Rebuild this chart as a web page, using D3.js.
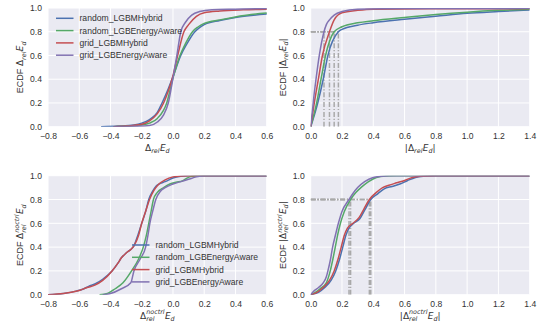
<!DOCTYPE html>
<html>
<head>
<meta charset="utf-8">
<script src="https://cdn.jsdelivr.net/npm/d3@7"></script>
<style>
  html, body { margin: 0; padding: 0; background: #ffffff; }
  svg { display: block; }
</style>
</head>
<body>
<svg id="chart" width="546" height="327"></svg>
<script>
// Series shown in every panel (legend order = draw order)
const seriesNames = ["random_LGBMHybrid", "random_LGBEnergyAware", "grid_LGBMHybrid", "grid_LGBEnergyAware"];
const seriesColors = ["#4C72B0", "#55A868", "#C44E52", "#8172B2"];

// Tick values
const signedTicks = [-0.8, -0.6, -0.4, -0.2, 0.0, 0.2, 0.4, 0.6];
const absTicks = [0.0, 0.2, 0.4, 0.6, 0.8, 1.0, 1.2, 1.4];
const ecdfTicks = [0.0, 0.2, 0.4, 0.6, 0.8, 1.0];

// ECDF of the relative error Δ_rel E_d, as [x, F(x)] per series
const signedEcdf = [
  [[-0.46,0],[-0.35,0.005],[-0.25,0.015],[-0.2,0.03],[-0.15,0.06],[-0.1,0.12],[-0.07,0.2],[-0.03,0.32],[0,0.42],[0.05,0.6],[0.09,0.7],[0.14,0.8],[0.17,0.835],[0.2,0.86],[0.3,0.895],[0.4,0.92],[0.5,0.937],[0.6,0.95],[0.7,0.96]],
  [[-0.38,0],[-0.3,0.005],[-0.2,0.015],[-0.15,0.03],[-0.1,0.07],[-0.04,0.2],[0,0.41],[0.045,0.6],[0.08,0.7],[0.125,0.8],[0.16,0.84],[0.2,0.87],[0.3,0.9],[0.4,0.925],[0.5,0.945],[0.6,0.957],[0.7,0.965]],
  [[-0.38,0],[-0.3,0.005],[-0.2,0.02],[-0.15,0.05],[-0.1,0.11],[-0.06,0.2],[-0.03,0.3],[0,0.43],[0.03,0.6],[0.07,0.8],[0.1,0.86],[0.15,0.93],[0.2,0.96],[0.3,0.975],[0.45,0.985],[0.6,0.99],[0.7,0.992]],
  [[-0.38,0],[-0.25,0.003],[-0.15,0.01],[-0.1,0.04],[-0.06,0.1],[-0.03,0.2],[0,0.41],[0.025,0.6],[0.05,0.8],[0.08,0.88],[0.12,0.94],[0.17,0.97],[0.25,0.985],[0.4,0.99],[0.6,0.995],[0.7,0.996]]
];

// ECDF of |Δ_rel E_d|
const absEcdf = [
  [[0,0],[0.045,0.2],[0.08,0.4],[0.11,0.6],[0.177,0.8],[0.2,0.82],[0.3,0.855],[0.4,0.876],[0.6,0.905],[0.8,0.93],[1.0,0.955],[1.2,0.97],[1.4,0.983]],
  [[0,0],[0.038,0.2],[0.066,0.4],[0.095,0.6],[0.15,0.8],[0.2,0.842],[0.3,0.875],[0.4,0.893],[0.6,0.92],[0.8,0.945],[1.0,0.965],[1.2,0.98],[1.4,0.99]],
  [[0,0],[0.023,0.2],[0.049,0.4],[0.075,0.6],[0.12,0.8],[0.15,0.9],[0.2,0.96],[0.3,0.98],[0.4,0.99],[0.8,0.993],[1.4,0.995]],
  [[0,0],[0.01,0.12],[0.02,0.25],[0.034,0.4],[0.055,0.6],[0.085,0.8],[0.1,0.86],[0.12,0.9],[0.15,0.94],[0.2,0.97],[0.3,0.99],[0.6,0.995],[1.4,0.997]]
];

// ECDF of the no-control relative error Δ^noctrl_rel E_d
const noctrlEcdf = [
  [[-0.8,0],[-0.7,0.01],[-0.62,0.03],[-0.57,0.05],[-0.54,0.07],[-0.5,0.09],[-0.45,0.13],[-0.39,0.2],[-0.35,0.27],[-0.33,0.31],[-0.3,0.35],[-0.27,0.38],[-0.25,0.41],[-0.23,0.48],[-0.2,0.6],[-0.175,0.7],[-0.155,0.8],[-0.13,0.87],[-0.11,0.91],[-0.09,0.93],[-0.05,0.95],[0,0.98],[0.05,0.995],[0.1,1.0],[0.6,1.0]],
  [[-0.47,0],[-0.42,0.01],[-0.37,0.05],[-0.32,0.1],[-0.265,0.2],[-0.22,0.3],[-0.19,0.4],[-0.17,0.5],[-0.155,0.6],[-0.14,0.7],[-0.125,0.8],[-0.1,0.86],[-0.06,0.9],[-0.02,0.93],[0.02,0.945],[0.06,0.955],[0.09,0.98],[0.12,0.995],[0.16,1.0],[0.6,1.0]],
  [[-0.8,0],[-0.7,0.01],[-0.65,0.02],[-0.6,0.035],[-0.55,0.06],[-0.5,0.08],[-0.45,0.12],[-0.39,0.2],[-0.35,0.27],[-0.33,0.31],[-0.3,0.35],[-0.27,0.38],[-0.25,0.41],[-0.22,0.5],[-0.2,0.6],[-0.175,0.7],[-0.15,0.8],[-0.12,0.88],[-0.09,0.93],[-0.05,0.965],[0,0.99],[0.05,0.998],[0.1,1.0],[0.6,1.0]],
  [[-0.45,0],[-0.4,0.01],[-0.33,0.05],[-0.27,0.1],[-0.25,0.2],[-0.21,0.3],[-0.175,0.4],[-0.16,0.5],[-0.148,0.6],[-0.13,0.7],[-0.11,0.8],[-0.08,0.87],[-0.05,0.9],[0,0.93],[0.05,0.95],[0.1,0.97],[0.15,0.99],[0.2,1.0],[0.6,1.0]]
];

// ECDF of |Δ^noctrl_rel E_d|
const absNoctrlEcdf = [
  [[0,0],[0.05,0.02],[0.09,0.06],[0.13,0.12],[0.16,0.2],[0.185,0.3],[0.205,0.4],[0.225,0.5],[0.245,0.56],[0.275,0.6],[0.315,0.64],[0.345,0.71],[0.384,0.8],[0.43,0.85],[0.47,0.89],[0.52,0.91],[0.57,0.93],[0.62,0.96],[0.67,0.985],[0.72,0.995],[0.8,1.0],[1.4,1.0]],
  [[0,0],[0.03,0.02],[0.06,0.05],[0.1,0.1],[0.125,0.2],[0.142,0.3],[0.157,0.4],[0.172,0.5],[0.19,0.6],[0.215,0.7],[0.255,0.8],[0.29,0.86],[0.33,0.91],[0.37,0.95],[0.42,0.985],[0.48,0.997],[0.55,1.0],[1.4,1.0]],
  [[0,0],[0.04,0.02],[0.08,0.06],[0.12,0.12],[0.15,0.2],[0.175,0.3],[0.195,0.4],[0.215,0.5],[0.235,0.56],[0.27,0.6],[0.31,0.65],[0.34,0.72],[0.375,0.8],[0.42,0.86],[0.46,0.9],[0.5,0.92],[0.55,0.94],[0.6,0.96],[0.65,0.985],[0.7,0.995],[0.8,1.0],[1.4,1.0]],
  [[0,0],[0.02,0.03],[0.05,0.06],[0.08,0.1],[0.1,0.15],[0.11,0.2],[0.127,0.3],[0.14,0.4],[0.158,0.5],[0.177,0.6],[0.2,0.7],[0.245,0.8],[0.27,0.85],[0.3,0.9],[0.345,0.95],[0.4,0.985],[0.45,0.995],[0.5,1.0],[1.4,1.0]]
];

// Level at which the quantile guides are drawn on the |error| panels
const guideLevel = 0.8;

const TEXT_FONT = "'Liberation Sans', Arial, sans-serif";
const MATH_FONT = "'DejaVu Sans', sans-serif";
const TEXT_COLOR = "#333333";
const BG = "#EAEAF2";

const svg = d3.select("#chart");

// Lay out a math-style label from pieces; stacked pieces share one x position.
function mathText(parent, pieces, cx, cy, angle) {
  const outer = parent.append("g").attr("transform", `translate(${cx},${cy}) rotate(${angle || 0})`);
  const inner = outer.append("g");
  let x = 0, held = null;
  for (const p of pieces) {
    const small = p.pos === "sub" || p.pos === "sup";
    const size = small ? 6.4 : 9;
    const dy = p.pos === "sub" ? 2.6 : p.pos === "sup" ? -4.2 : 0;
    const start = held ? held.x : x;
    const node = inner.append("text")
      .attr("x", start).attr("y", dy)
      .attr("font-size", size)
      .attr("font-family", p.font || MATH_FONT)
      .attr("font-style", p.it ? "italic" : "normal")
      .attr("fill", TEXT_COLOR)
      .text(p.t);
    const w = node.node().getComputedTextLength();
    if (p.stack) {
      held = { x: start, w };
    } else if (held) {
      x = start + Math.max(w, held.w);
      held = null;
    } else {
      x = start + w;
    }
    x += p.kern || 0;
  }
  inner.attr("transform", `translate(${-x / 2},0)`);
}

const relSigned = [
  { t: "Δ" }, { t: "rel", it: true, pos: "sub", kern: 0.3 }, { t: "E", it: true }, { t: "d", it: true, pos: "sub" }
];
const relNoctrl = [
  { t: "Δ" }, { t: "noctrl", it: true, pos: "sup", stack: true }, { t: "rel", it: true, pos: "sub", kern: 0.3 },
  { t: "E", it: true }, { t: "d", it: true, pos: "sub" }
];
const bar = { t: "|" };
const ecdfWord = { t: "ECDF", font: TEXT_FONT, kern: 2.6 };

const panels = [
  { data: signedEcdf, left: 48, right: 266.7, top: 8, bottom: 126.7, xDomain: [-0.8, 0.6], xTicks: signedTicks,
    xLabel: relSigned, yLabel: [ecdfWord, ...relSigned], guides: false,
    legend: { x: 56, y: 18.3 } },
  { data: absEcdf, left: 310.7, right: 529.7, top: 8, bottom: 126.7, xDomain: [0, 1.4], xTicks: absTicks,
    xLabel: [bar, ...relSigned, bar], yLabel: [ecdfWord, bar, ...relSigned, bar], guides: true },
  { data: noctrlEcdf, left: 48, right: 266.7, top: 175.7, bottom: 294.7, xDomain: [-0.8, 0.6], xTicks: signedTicks,
    xLabel: relNoctrl, yLabel: [ecdfWord, ...relNoctrl], guides: false,
    legend: { x: 132, y: 245 } },
  { data: absNoctrlEcdf, left: 310.7, right: 529.7, top: 175.7, bottom: 294.7, xDomain: [0, 1.4], xTicks: absTicks,
    xLabel: [bar, ...relNoctrl, bar], yLabel: [ecdfWord, bar, ...relNoctrl, bar], guides: true }
];

// x where a piecewise-linear ECDF first reaches the level
function quantileAt(points, level) {
  for (let i = 1; i < points.length; i++) {
    const [x0, y0] = points[i - 1], [x1, y1] = points[i];
    if (y1 >= level) return y1 === y0 ? x1 : x0 + (level - y0) * (x1 - x0) / (y1 - y0);
  }
  return points[points.length - 1][0];
}

panels.forEach((p, idx) => {
  const x = d3.scaleLinear().domain(p.xDomain).range([p.left, p.right]);
  const y = d3.scaleLinear().domain([0, 1]).range([p.bottom, p.top]);
  const g = svg.append("g");

  g.append("rect")
    .attr("x", p.left).attr("y", p.top)
    .attr("width", p.right - p.left).attr("height", p.bottom - p.top)
    .attr("fill", BG);

  // white grid
  const grid = g.append("g").attr("stroke", "#ffffff").attr("stroke-width", 1);
  grid.selectAll(".gx").data(p.xTicks).join("line")
    .attr("x1", d => x(d)).attr("x2", d => x(d)).attr("y1", p.top).attr("y2", p.bottom);
  grid.selectAll(".gy").data(ecdfTicks).join("line")
    .attr("y1", d => y(d)).attr("y2", d => y(d)).attr("x1", p.left).attr("x2", p.right);

  // tick labels via d3 axes, with the tick marks and domain removed
  const fmt = d3.format(".1f");
  const xAxis = g.append("g").attr("transform", `translate(0,${p.bottom})`)
    .call(d3.axisBottom(x).tickValues(p.xTicks).tickFormat(fmt).tickSize(0).tickPadding(6.5));
  const yAxis = g.append("g").attr("transform", `translate(${p.left},0)`)
    .call(d3.axisLeft(y).tickValues(ecdfTicks).tickFormat(fmt).tickSize(0).tickPadding(6));
  [xAxis, yAxis].forEach(a => {
    a.select(".domain").remove();
    a.selectAll("text").attr("font-family", TEXT_FONT).attr("font-size", 8.6).attr("fill", TEXT_COLOR);
  });

  const clipId = "clip" + idx;
  g.append("clipPath").attr("id", clipId).append("rect")
    .attr("x", p.left).attr("y", p.top)
    .attr("width", p.right - p.left).attr("height", p.bottom - p.top);
  const plot = g.append("g").attr("clip-path", `url(#${clipId})`);

  // quantile guides at the 80% level
  if (p.guides) {
    const qs = p.data.map(s => quantileAt(s, guideLevel));
    const guide = plot.append("g").attr("stroke", "#a9a9a9").attr("stroke-width", 1.5)
      .attr("stroke-dasharray", "5,1.8,1.2,1.8").attr("fill", "none");
    guide.selectAll("line.v").data(qs).join("line")
      .attr("x1", d => x(d)).attr("x2", d => x(d)).attr("y1", y(0)).attr("y2", y(guideLevel));
    guide.selectAll("line.h").data(qs).join("line")
      .attr("x1", x(0)).attr("x2", d => x(d)).attr("y1", y(guideLevel)).attr("y2", y(guideLevel));
  }

  const line = d3.line().x(d => x(d[0])).y(d => y(d[1])).curve(d3.curveMonotoneX);
  plot.selectAll("path.s").data(p.data).join("path")
    .attr("d", line)
    .attr("fill", "none")
    .attr("stroke", (d, i) => seriesColors[i])
    .attr("stroke-width", 1.5);

  // legend (no frame)
  if (p.legend) {
    const lg = g.append("g");
    seriesNames.forEach((name, i) => {
      const ly = p.legend.y + i * 12.3;
      lg.append("line").attr("x1", p.legend.x).attr("x2", p.legend.x + 17.5)
        .attr("y1", ly).attr("y2", ly).attr("stroke", seriesColors[i]).attr("stroke-width", 1.5);
      lg.append("text").attr("x", p.legend.x + 23.5).attr("y", ly).attr("dy", "0.35em")
        .attr("font-family", TEXT_FONT).attr("font-size", 8.6).attr("fill", TEXT_COLOR).text(name);
    });
  }

  // axis titles
  mathText(g, p.xLabel, (p.left + p.right) / 2, p.bottom + 23.8, 0);
  mathText(g, p.yLabel, p.left - 25, (p.top + p.bottom) / 2, -90);
});
</script>
</body>
</html>
